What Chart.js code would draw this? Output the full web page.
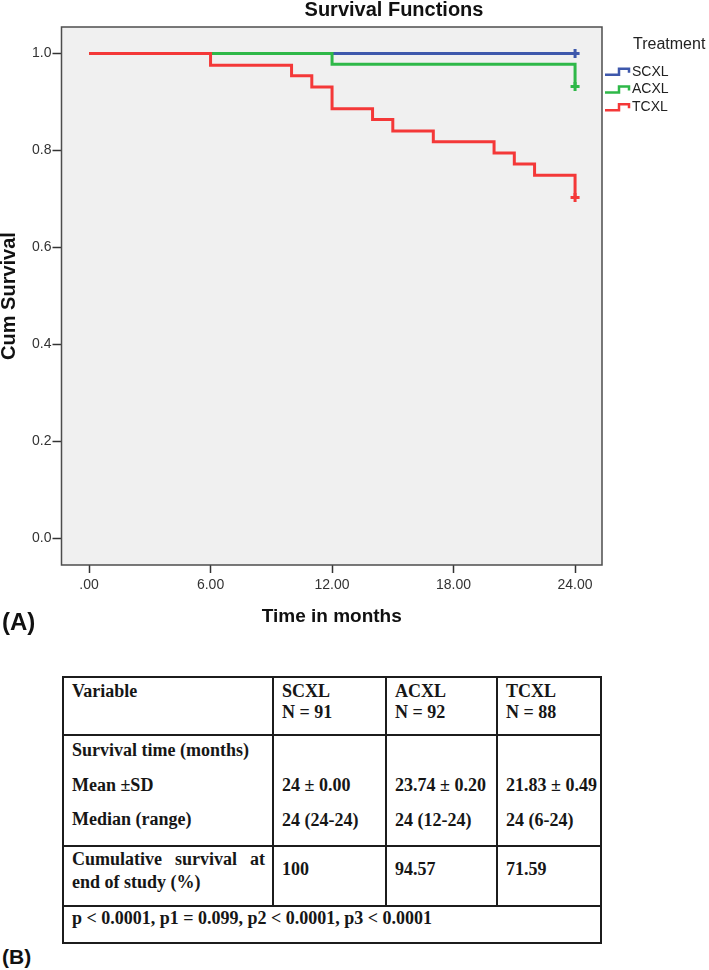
<!DOCTYPE html>
<html>
<head>
<meta charset="utf-8">
<script src="https://cdn.jsdelivr.net/npm/chart.js@4.4.0/dist/chart.umd.min.js"></script>
<style>
  body { margin: 0; background: #fff; width: 709px; height: 970px; position: relative; overflow: hidden; font-family: "Liberation Sans", Arial, sans-serif; }
  #chartBox { position: absolute; left: 0; top: 0; width: 709px; height: 645px; }
  .panel { position: absolute; left: 2px; font-weight: bold; color: #111; }
  table { position: absolute; left: 62px; top: 676px; border-collapse: collapse; table-layout: fixed; width: 540px;
          font-family: "Liberation Serif", "Times New Roman", serif; font-weight: bold; font-size: 18px; color: #161616; }
  td { border: 2px solid #1c1c1c; vertical-align: top; padding: 0 2px 0 8px; white-space: nowrap; }
  td.wrap { white-space: normal; padding-right: 7px; }
</style>
</head>
<body>
<div id="chartBox"><canvas id="kmChart" width="709" height="645"></canvas></div>
<div class="panel" style="top:610px;font-size:24px;line-height:24px;">(A)</div>

<table>
  <colgroup>
    <col style="width:210px"><col style="width:113px"><col style="width:111px"><col style="width:104px">
  </colgroup>
  <tr style="height:58px">
    <td><div style="line-height:21px;padding-top:3px">Variable</div></td>
    <td><div style="line-height:21px;padding-top:3px">SCXL<br>N = 91</div></td>
    <td><div style="line-height:21px;padding-top:3px">ACXL<br>N = 92</div></td>
    <td><div style="line-height:21px;padding-top:3px">TCXL<br>N = 88</div></td>
  </tr>
  <tr style="height:111px">
    <td><div style="line-height:34.5px;margin-top:-3px">Survival time (months)<br>Mean ±SD<br>Median (range)</div></td>
    <td><div style="line-height:34.5px;padding-top:32px">24 ± 0.00<br>24 (24-24)</div></td>
    <td><div style="line-height:34.5px;padding-top:32px">23.74 ± 0.20<br>24 (12-24)</div></td>
    <td><div style="line-height:34.5px;padding-top:32px">21.83 ± 0.49<br>24 (6-24)</div></td>
  </tr>
  <tr style="height:60px">
    <td class="wrap"><div style="line-height:22.5px;padding-top:1px;text-align:justify">Cumulative survival at end of study (%)</div></td>
    <td><div style="line-height:22.5px;padding-top:11px">100</div></td>
    <td><div style="line-height:22.5px;padding-top:11px">94.57</div></td>
    <td><div style="line-height:22.5px;padding-top:11px">71.59</div></td>
  </tr>
  <tr style="height:37px">
    <td colspan="4"><div style="line-height:22px">p &lt; 0.0001, p1 = 0.099, p2 &lt; 0.0001, p3 &lt; 0.0001</div></td>
  </tr>
</table>

<div class="panel" style="top:946px;font-size:21px;line-height:21px;">(B)</div>

<script>
// axis ticks
const xTickValues = [0, 6, 12, 18, 24];
const xTickLabels = ['.00', '6.00', '12.00', '18.00', '24.00'];
const yTickValues = [0, 0.2, 0.4, 0.6, 0.8, 1.0];
const yTickLabels = ['0.0', '0.2', '0.4', '0.6', '0.8', '1.0'];

// groups
const groups = ['SCXL', 'ACXL', 'TCXL'];
const groupColors = ['#3e58ac', '#2eb848', '#f43838'];

// Kaplan-Meier steps (time in months, cumulative survival)
const scxlTime = [0, 24];
const scxlSurv = [1.0, 1.0];
const acxlTime = [0, 12, 24];
const acxlSurv = [1.0, 0.978, 0.932];
const tcxlTime = [0, 6, 10, 11, 12, 14, 15, 17, 20, 21, 22, 24];
const tcxlSurv = [1.0, 0.976, 0.954, 0.931, 0.886, 0.864, 0.840, 0.818, 0.795, 0.772, 0.749, 0.703];

const FONT = '"Liberation Sans", Arial, sans-serif';
Chart.defaults.font.family = FONT;

function kmDataset(label, times, surv, color, order) {
    return {
        label: label,
        order: order,
        data: times.map((t, i) => ({ x: t, y: surv[i] })),
        borderColor: color,
        backgroundColor: color,
        borderWidth: 3,
        stepped: 'before',
        fill: false,
        pointStyle: 'cross',
        // censor mark on the last point only
        pointRadius: ctx => ctx.dataIndex === times.length - 1 ? 4.5 : 0,
        pointBorderWidth: 3,
        pointHoverRadius: 0
    };
}

// plot background, frame, title and step legend
const spssFrame = {
    id: 'spssFrame',
    beforeDraw(chart) {
        const { ctx, chartArea: a } = chart;
        ctx.save();
        ctx.fillStyle = '#f0f0f0';
        ctx.fillRect(a.left, a.top, a.right - a.left, a.bottom - a.top);
        ctx.restore();
    },
    afterDraw(chart) {
        const { ctx, chartArea: a } = chart;
        ctx.save();
        ctx.strokeStyle = '#4d4d4d';
        ctx.lineWidth = 1.5;
        ctx.strokeRect(a.left, a.top, a.right - a.left, a.bottom - a.top);

        ctx.fillStyle = '#111';
        ctx.font = 'bold 20px ' + FONT;
        ctx.textAlign = 'center';
        ctx.textBaseline = 'middle';
        ctx.fillText('Survival Functions', a.right - 208, 10);

        ctx.textAlign = 'left';
        ctx.font = '16px ' + FONT;
        ctx.fillStyle = '#222';
        ctx.fillText('Treatment', a.right + 31, 45);

        ctx.font = '14px ' + FONT;
        chart.data.datasets.forEach((ds, i) => {
            const y = 71.7 + i * 17.8;
            const x0 = a.right + 3;
            ctx.strokeStyle = ds.borderColor;
            ctx.lineWidth = 2.5;
            ctx.beginPath();
            ctx.moveTo(x0, y + 3);
            ctx.lineTo(x0 + 14, y + 3);
            ctx.lineTo(x0 + 14, y - 3);
            ctx.lineTo(x0 + 24, y - 3);
            ctx.lineTo(x0 + 24, y + 1);
            ctx.stroke();
            ctx.fillStyle = '#222';
            ctx.fillText(ds.label, x0 + 27, y);
        });
        ctx.restore();
    }
};

const kmCtx = document.getElementById('kmChart').getContext('2d');
const kmChart = new Chart(kmCtx, {
    type: 'line',
    data: {
        datasets: [
            kmDataset(groups[0], scxlTime, scxlSurv, groupColors[0], 2),
            kmDataset(groups[1], acxlTime, acxlSurv, groupColors[1], 1),
            kmDataset(groups[2], tcxlTime, tcxlSurv, groupColors[2], 0)
        ]
    },
    options: {
        responsive: false,
        animation: false,
        layout: {
            padding: { top: 27, right: 107, bottom: 16.6, left: 0 }
        },
        plugins: {
            legend: { display: false },
            title: { display: false },
            tooltip: { enabled: false }
        },
        scales: {
            x: {
                type: 'linear',
                min: -1.36,
                max: 25.33,
                afterBuildTicks: s => { s.ticks = xTickValues.map(v => ({ value: v })); },
                afterFit: s => { s.height = 63.4; },
                ticks: {
                    callback: (v, i) => xTickLabels[i],
                    font: { size: 14 },
                    color: '#333',
                    padding: 4,
                    maxRotation: 0,
                    autoSkip: false
                },
                grid: {
                    drawOnChartArea: false,
                    drawTicks: true,
                    tickLength: 8,
                    tickColor: '#333',
                    tickWidth: 1.5
                },
                border: { display: false },
                title: {
                    display: true,
                    text: 'Time in months',
                    color: '#111',
                    font: { size: 19, weight: 'bold' },
                    padding: { top: 0, bottom: 0 }
                }
            },
            y: {
                min: -0.055,
                max: 1.0547,
                afterBuildTicks: s => { s.ticks = yTickValues.map(v => ({ value: v })); },
                afterFit: s => { s.width = 61.5; },
                ticks: {
                    callback: (v, i) => yTickLabels[i],
                    font: { size: 14 },
                    color: '#333',
                    padding: 1
                },
                grid: {
                    drawOnChartArea: false,
                    drawTicks: true,
                    tickLength: 9,
                    tickColor: '#333',
                    tickWidth: 1.5
                },
                border: { display: false },
                title: {
                    display: true,
                    text: 'Cum Survival',
                    color: '#111',
                    font: { size: 20, weight: 'bold', lineHeight: 0.9 },
                    padding: 0
                }
            }
        }
    },
    plugins: [spssFrame]
});
</script>
</body>
</html>
